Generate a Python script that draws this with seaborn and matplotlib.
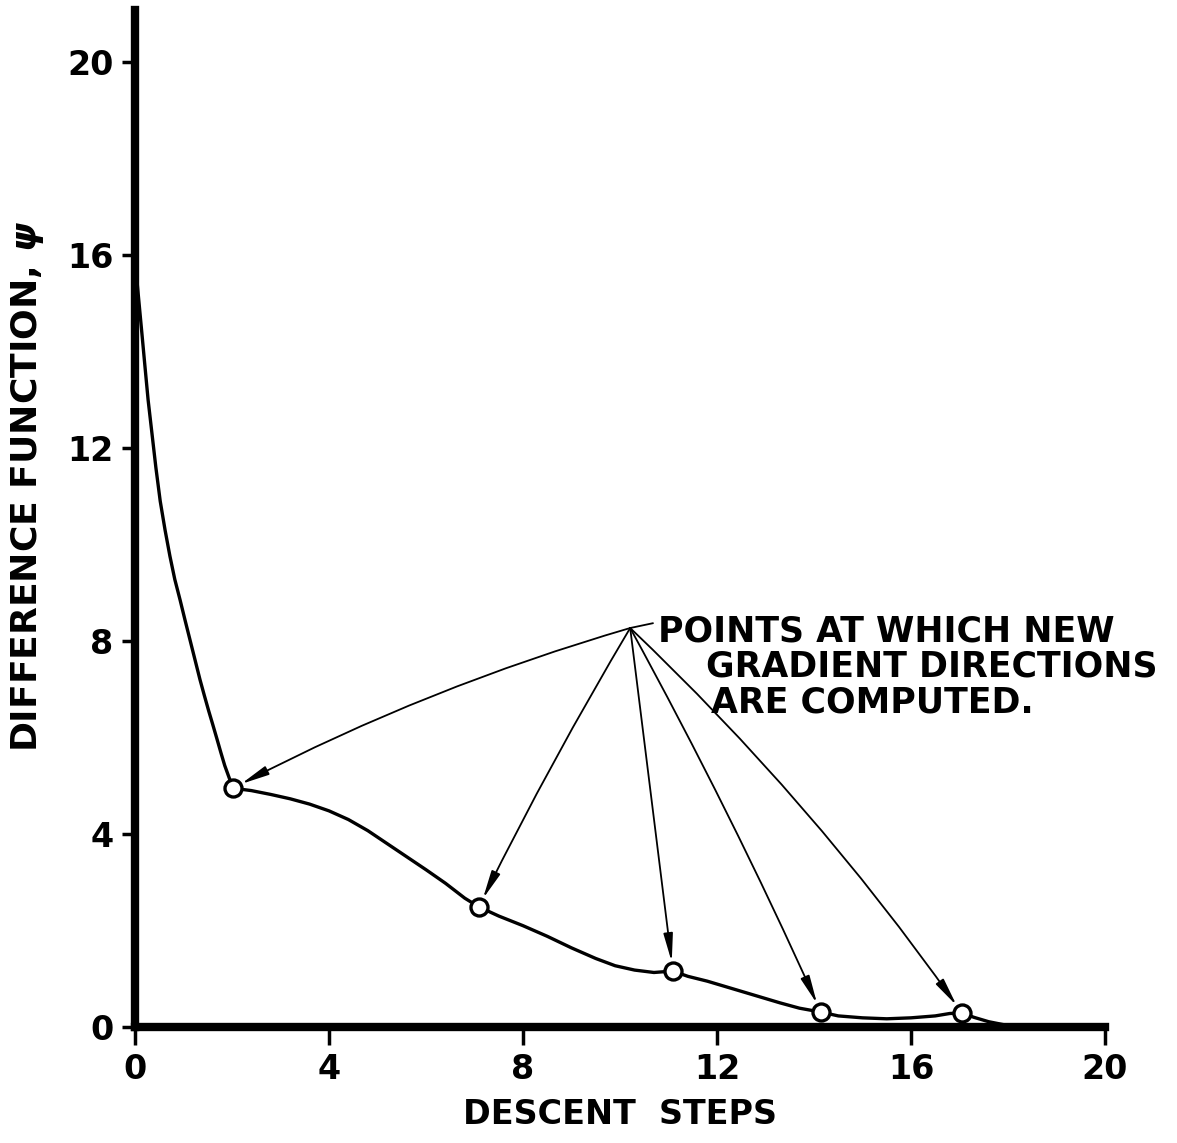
import matplotlib
matplotlib.use("Agg")
import matplotlib.pyplot as plt
import seaborn as sns

# Traced curve of the difference function against descent steps
step_x = [0.0, 0.07, 0.14, 0.2, 0.27, 0.35, 0.43, 0.52, 0.62, 0.72, 0.82, 0.93, 1.03,
          1.13, 1.24, 1.34, 1.43, 1.52, 1.6, 1.69, 1.77, 1.85, 1.94, 2.02,
          2.4, 2.8, 3.2, 3.6, 4.0, 4.4, 4.8, 5.2, 5.6, 6.0, 6.4, 6.8, 7.09,
          7.5, 8.0, 8.5, 9.0, 9.5, 9.9, 10.3, 10.7, 11.09,
          11.4, 11.8, 12.3, 12.8, 13.3, 13.7, 14.14,
          14.5, 15.0, 15.5, 16.0, 16.5, 16.8, 17.05,
          17.3, 17.6, 17.9, 18.3]
psi_y = [15.9, 15.15, 14.4, 13.75, 13.0, 12.3, 11.6, 10.9, 10.3, 9.76, 9.28, 8.85, 8.44,
         8.04, 7.6, 7.2, 6.87, 6.55, 6.28, 5.97, 5.69, 5.42, 5.17, 4.95,
         4.9, 4.82, 4.73, 4.62, 4.48, 4.3, 4.07, 3.8, 3.53, 3.26, 2.98, 2.67, 2.49,
         2.3, 2.1, 1.88, 1.64, 1.42, 1.27, 1.18, 1.13, 1.16,
         1.05, 0.95, 0.8, 0.65, 0.5, 0.39, 0.31,
         0.23, 0.19, 0.17, 0.19, 0.23, 0.28, 0.29,
         0.2, 0.11, 0.05, 0.0]

# Steps where a new gradient direction is computed
gradient_x = [2.02, 7.09, 11.09, 14.14, 17.05]
gradient_y = [4.95, 2.49, 1.16, 0.31, 0.29]

x_ticks = [0, 4, 8, 12, 16, 20]
y_ticks = [0, 4, 8, 12, 16, 20]

note_lines = ["POINTS AT WHICH NEW", "GRADIENT DIRECTIONS", "ARE COMPUTED."]

sns.set_theme(style="ticks")
plt.rcParams["font.family"] = ["DejaVu Sans"]
plt.rcParams["font.weight"] = "bold"
plt.rcParams["mathtext.fontset"] = "dejavusans"
plt.rcParams["text.color"] = "black"
plt.rcParams["axes.labelcolor"] = "black"
plt.rcParams["xtick.color"] = "black"
plt.rcParams["ytick.color"] = "black"

fig = plt.figure(figsize=(11.77, 11.43), dpi=100)
ax = fig.add_axes([135 / 1177, 1 - 1027 / 1143, 970 / 1177, 1017 / 1143])

sns.lineplot(x=step_x, y=psi_y, estimator=None, sort=False, color="black",
             linewidth=2.4, ax=ax, zorder=3)
sns.scatterplot(x=gradient_x, y=gradient_y, s=150, facecolor="white",
                edgecolor="black", linewidth=2.4, ax=ax, zorder=5)

# Callout: one origin, an arrow to each gradient point
origin = (10.21, 8.27)
bends = [0.05, 0.02, 0.0, -0.02, -0.05]
for gx, gy, rad in zip(gradient_x, gradient_y, bends):
    ax.annotate("", xy=(gx, gy), xytext=origin,
                arrowprops=dict(arrowstyle="-|>,head_length=1.7,head_width=0.28",
                                connectionstyle=f"arc3,rad={rad}",
                                color="black", lw=1.3, shrinkA=0, shrinkB=6.5,
                                mutation_scale=10),
                zorder=4)
ax.plot([origin[0], 10.68], [origin[1], 8.37], color="black", lw=1.3)

note_pos = [(10.78, 8.0), (11.78, 7.27), (11.88, 6.52)]
for (tx, ty), line in zip(note_pos, note_lines):
    ax.text(tx, ty, line, fontsize=25, fontweight="bold", ha="left",
            va="baseline", color="black")

ax.set_xlim(0, 20)
ax.set_ylim(0, 21.08)
ax.set_xticks(x_ticks)
ax.set_yticks(y_ticks)
ax.set_xticklabels([str(v) for v in x_ticks], fontsize=24, fontweight="bold")
ax.set_yticklabels([str(v) for v in y_ticks], fontsize=24, fontweight="bold")
ax.tick_params(axis="x", length=13, width=2.5, pad=6, colors="black")
ax.tick_params(axis="y", length=9.5, width=2.5, pad=6, colors="black")

for side in ("top", "right"):
    ax.spines[side].set_visible(False)
for side in ("left", "bottom"):
    ax.spines[side].set_linewidth(6)
    ax.spines[side].set_color("black")
ax.spines["bottom"].set_bounds(0, 20)

ax.set_xlabel("DESCENT  STEPS", fontsize=24, fontweight="bold", labelpad=8,
              color="black")
ax.set_ylabel(r"DIFFERENCE FUNCTION, $\psi$", fontsize=26, fontweight="bold",
              color="black")
ax.yaxis.set_label_coords(-0.092, 0.531)

fig.savefig("out.png", dpi=100, facecolor="white")
